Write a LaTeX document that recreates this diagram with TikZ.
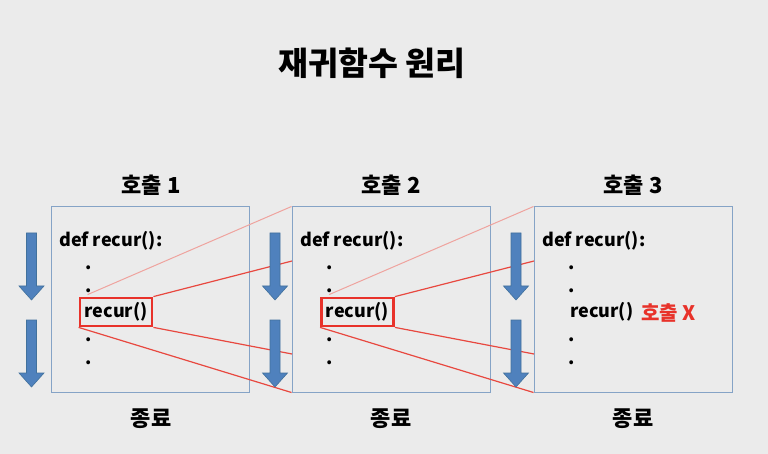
\documentclass[tikz,border=0pt]{standalone}
\usepackage{fontspec}
\setmainfont{Noto Sans CJK KR}
\usetikzlibrary{calc}
\definecolor{bg}{HTML}{EBEBEB}
\definecolor{boxc}{HTML}{85A3C6}
\definecolor{arrc}{HTML}{4F81BD}
\definecolor{arrd}{HTML}{41719C}
\definecolor{redc}{HTML}{E8322A}
\definecolor{redl}{HTML}{E8483F}
\definecolor{redp}{HTML}{EFA39E}
\tikzset{
  framebox/.style={draw=boxc, line width=1pt, minimum width=198pt, minimum height=185pt, inner sep=0pt},
  code/.style={font=\bfseries\fontsize{18}{20}\selectfont, inner sep=0pt, anchor=west},
  dotn/.style={font=\bfseries\fontsize{18}{20}\selectfont, inner sep=0pt},
  callbox/.style={draw=redc, line width=2.8pt, minimum width=72pt, minimum height=28pt, inner sep=0pt, font=\bfseries\fontsize{18}{20}\selectfont},
  lbl/.style={font=\bfseries\fontsize{22}{24}\selectfont, inner sep=0pt},
  link/.style={draw=redl, line width=1.2pt},
  linkp/.style={draw=redp, line width=1pt},
  pics/downarrow/.style={code={
    \fill[arrc, draw=arrd, line width=0.6pt] (-5,0) -- (5,0) -- (5,53) -- (12.5,53) -- (0,67) -- (-12.5,53) -- (-5,53) -- cycle;
  }}
}
\begin{document}
\begin{tikzpicture}[x=1pt, y=-1pt]
\fill[bg] (0,0) rectangle (768,454);
\useasboundingbox (0,0) rectangle (768,454);

\node[font=\bfseries\fontsize{32.5}{34}\selectfont, inner sep=0pt] (title) at (372,63) {재귀함수 원리};

% boxes
\node[framebox] (b1) at (150,299.5) {};
\node[framebox] (b2) at (391,299.5) {};
\node[framebox] (b3) at (633,299.5) {};

\node[lbl] (h1) at (151,185) {호출 1};
\node[lbl] (h2) at (391,185) {호출 2};
\node[lbl] (h3) at (633,185) {호출 3};
\node[lbl] (e1) at (151,419) {종료};
\node[lbl] (e2) at (391,419) {종료};
\node[lbl] (e3) at (633,419) {종료};

% box 1 contents
\node[code] (d1) at (59,241) {def\ recur():};
\node[dotn] (p11) at (89,268) {.};
\node[dotn] (p12) at (89,291) {.};
\node[callbox] (r1) at (116,312) {recur()};
\node[dotn] (p13) at (89,340) {.};
\node[dotn] (p14) at (89,363) {.};

% box 2 contents
\node[code] (d2) at (300,241) {def\ recur():};
\node[dotn] (p21) at (330,268) {.};
\node[dotn] (p22) at (330,291) {.};
\node[callbox] (r2) at (357.5,312) {recur()};
\node[dotn] (p23) at (330,340) {.};
\node[dotn] (p24) at (330,363) {.};

% box 3 contents
\node[code] (d3) at (542,241) {def\ recur():};
\node[dotn] (p31) at (572,268) {.};
\node[dotn] (p32) at (572,291) {.};
\node[code] (r3) at (570,312) {recur()};
\node[code, text=redc, font=\bfseries\fontsize{20}{22}\selectfont] (x3) at (641,313) {호출 X};
\node[dotn] (p33) at (572,340) {.};
\node[dotn] (p34) at (572,363) {.};

% connectors
\coordinate (s1) at ($(r1.north west)+(9,-2)$);
\coordinate (s2) at ($(r2.north west)+(9,-2)$);
\coordinate (u2) at (292,261);
\coordinate (l2) at (292,354);
\coordinate (u3) at (534,261);
\coordinate (l3) at (534,354);
\draw[linkp] (s1) -- (b2.north west);
\draw[link] (r1.north east) -- (u2);
\draw[link] (r1.south east) -- (l2);
\draw[link] (r1.south west) -- (b2.south west);
\draw[linkp] (s2) -- (b3.north west);
\draw[link] (r2.north east) -- (u3);
\draw[link] (r2.south east) -- (l3);
\draw[link] (r2.south west) -- (b3.south west);

% flow arrows
\pic at (31.5,233) {downarrow};
\pic at (31.5,320) {downarrow};
\pic at (275,233) {downarrow};
\pic at (275,320) {downarrow};
\pic at (516,233) {downarrow};
\pic at (516,320) {downarrow};
\end{tikzpicture}
\end{document}
